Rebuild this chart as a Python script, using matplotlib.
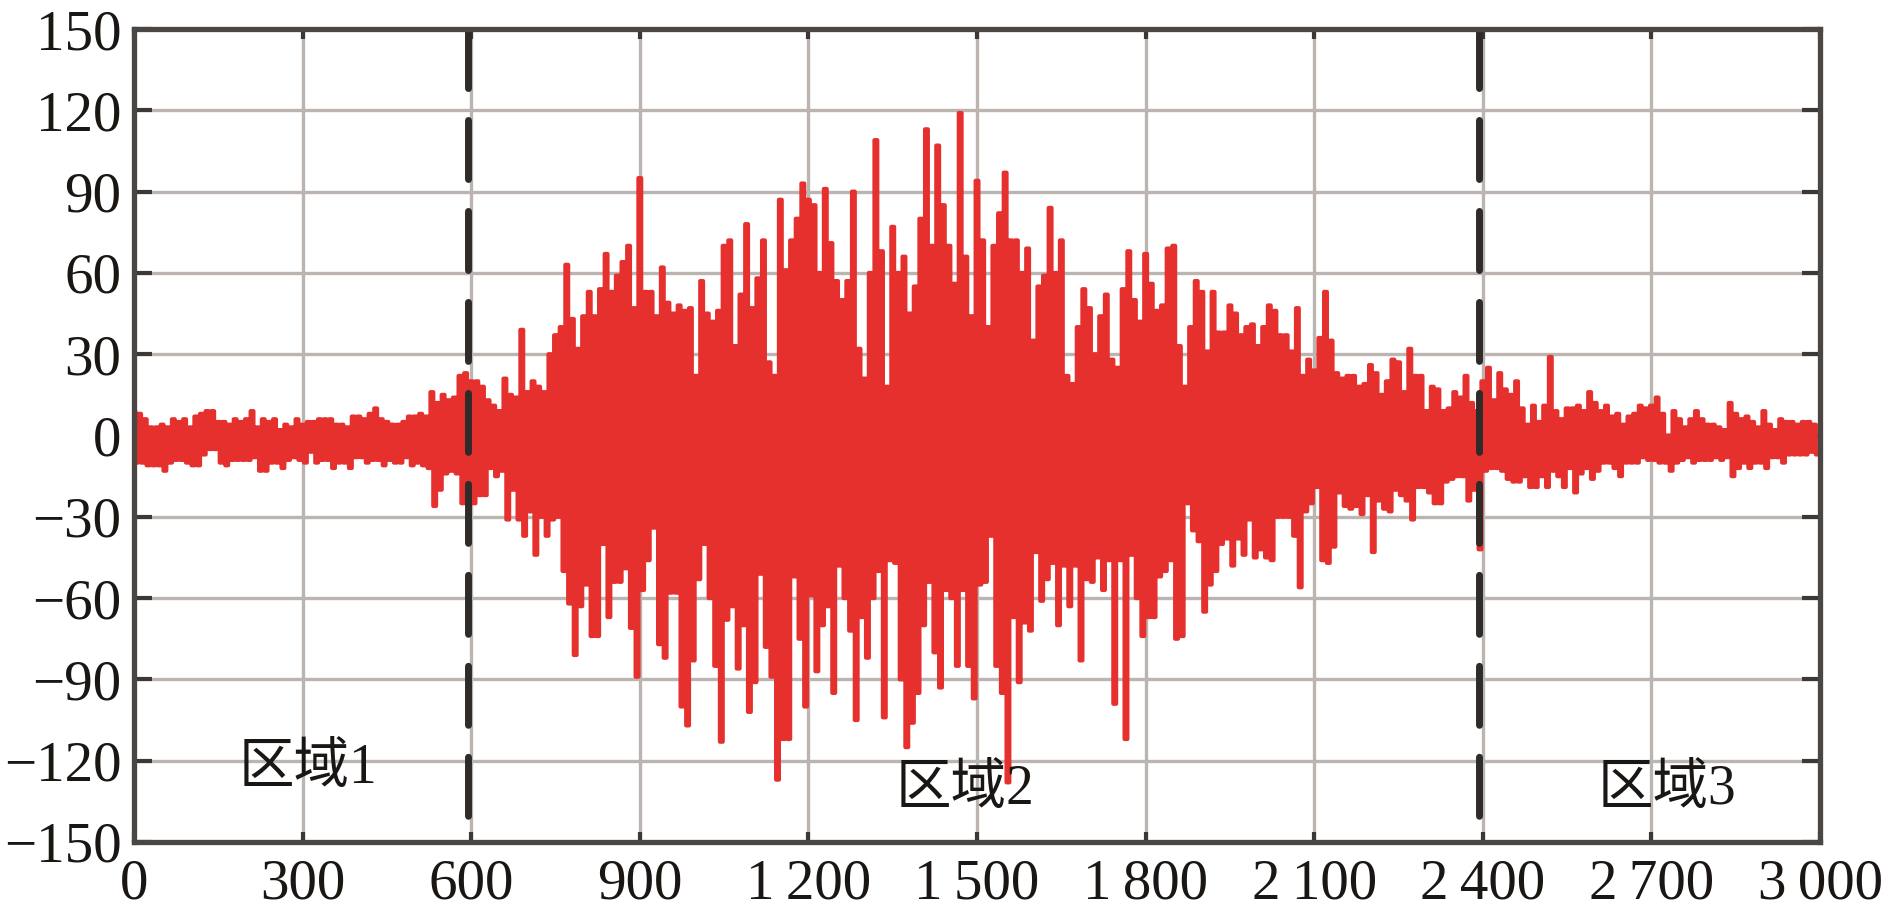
import numpy as np
import matplotlib
matplotlib.use("Agg")
import matplotlib.pyplot as plt

# ── Data (upper/lower extremes every 10 samples) ──
step = 10
upper = [
    # 0 - 490
    9, 8, 6, 3, 3, 4, 3, 6, 5, 6, 3, 7, 8, 9, 9, 5, 5, 4, 6, 5,
    6, 9, 3, 6, 5, 6, 2, 4, 3, 6, 4, 5, 5, 6, 6, 6, 4, 4, 3, 7,
    7, 6, 8, 10, 6, 5, 4, 4, 5, 7,
    # 500 - 990
    7, 8, 7, 16, 12, 15, 13, 14, 22, 23,
    20, 20, 18, 13, 11, 9, 21, 15, 14, 39, 16, 20, 18, 16, 30, 37, 40, 63, 43, 32,
    44, 53, 44, 54, 67, 53, 59, 64, 70, 47, 95, 53, 53, 44, 62, 49, 45, 48, 46, 47,
    # 1000 - 1490
    22, 57, 45, 42, 46, 70, 72, 33, 52, 78, 47, 58, 72, 27, 22, 87, 61, 72, 80, 93,
    87, 85, 60, 91, 71, 57, 50, 57, 90, 32, 21, 60, 109, 68, 18, 77, 60, 66, 45, 55,
    80, 113, 70, 107, 85, 70, 56, 119, 66, 44,
    # 1500 - 1990
    94, 72, 40, 70, 82, 97, 72, 72, 60, 69, 35, 55, 59, 84, 60, 72, 22, 19, 40, 54,
    47, 30, 44, 52, 28, 25, 54, 68, 50, 42, 67, 56, 46, 48, 69, 70, 33, 18, 40, 57,
    53, 31, 53, 38, 38, 48, 45, 37, 40, 41,
    # 2000 - 2490
    33, 40, 48, 46, 37, 37, 31, 47, 22, 28, 24, 36, 53, 35, 23, 21, 22, 22, 18, 19,
    26, 23, 15, 20, 28, 27, 16, 32, 22, 22, 9, 18, 17, 9, 10, 16, 14, 22, 12, 9,
    20, 25, 13, 23, 17, 15, 20, 10, 4, 11,
    # 2500 - 2990
    5, 11, 29, 9, 6, 10, 10, 11, 9, 16, 12, 9, 11, 7, 8, 4, 7, 8, 11, 10,
    11, 14, 8, 0, 9, 6, 3, 6, 9, 6, 4, 4, 3, 2, 12, 8, 6, 7, 5, 3,
    9, 4, 2, 6, 5, 5, 4, 5, 5, 4,
]
lower = [
    # 0 - 490
    -10, -10, -11, -11, -11, -13, -10, -9, -9, -10, -11, -11, -7, -5, -5, -10, -11, -9, -9, -9,
    -9, -8, -13, -13, -10, -10, -12, -9, -8, -9, -10, -6, -10, -9, -9, -12, -10, -10, -12, -8,
    -8, -10, -9, -9, -11, -9, -10, -10, -8, -11,
    # 500 - 990
    -10, -11, -12, -26, -20, -14, -13, -14, -25, -20,
    -25, -22, -22, -12, -15, -13, -31, -20, -31, -37, -28, -44, -30, -37, -31, -30, -50, -62, -81, -63,
    -55, -74, -74, -40, -67, -54, -54, -49, -71, -89, -57, -46, -34, -77, -82, -58, -58, -100, -107, -83,
    # 1000 - 1490
    -53, -40, -60, -85, -113, -68, -63, -86, -70, -102, -91, -51, -78, -89, -127, -112, -112, -52, -75, -100,
    -59, -87, -70, -63, -95, -48, -60, -72, -105, -67, -82, -60, -50, -104, -46, -47, -90, -115, -106, -95,
    -70, -54, -80, -93, -57, -60, -85, -57, -85, -97,
    # 1500 - 1990
    -55, -54, -37, -85, -95, -128, -67, -91, -69, -72, -43, -61, -53, -47, -70, -48, -63, -48, -83, -53,
    -54, -45, -57, -46, -99, -46, -112, -44, -60, -74, -67, -67, -52, -50, -46, -75, -74, -25, -35, -39,
    -65, -55, -50, -40, -38, -48, -38, -44, -31, -45,
    # 2000 - 2490
    -42, -45, -46, -30, -30, -30, -37, -56, -28, -25, -19, -46, -47, -41, -21, -26, -27, -26, -29, -22,
    -43, -24, -27, -28, -20, -22, -24, -31, -19, -19, -21, -25, -25, -17, -16, -15, -15, -24, -20, -42,
    -13, -12, -12, -13, -16, -17, -17, -15, -19, -19,
    # 2500 - 2990
    -15, -19, -13, -15, -19, -12, -21, -14, -12, -16, -13, -10, -10, -12, -15, -10, -10, -10, -8, -9,
    -9, -10, -10, -13, -10, -9, -8, -10, -9, -9, -9, -8, -9, -8, -15, -12, -10, -12, -10, -10,
    -12, -8, -8, -10, -7, -7, -7, -7, -6, -7,
]
boundaries = [594, 2394]
region_labels = ["区域1", "区域2", "区域3"]
region_pos = [(310, -123), (1478, -131), (2728, -131)]

xticks = [0, 300, 600, 900, 1200, 1500, 1800, 2100, 2400, 2700, 3000]
yticks = [-150, -120, -90, -60, -30, 0, 30, 60, 90, 120, 150]

# signal: alternate between the upper and lower extreme of each 10-sample block
sig = np.empty(2 * len(upper))
sig[0::2] = upper
sig[1::2] = lower
t = np.arange(len(sig)) * (step / 2)

# ── Figure ──────────────────────────────────────────────────────────────────
fig = plt.figure(figsize=(18.9, 9.22), dpi=100)
ax = fig.add_axes([0.0709, 0.0868, 0.8921, 0.8817])

ax.grid(True, color="#bcb4b1", lw=2.4, zorder=0)
ax.set_axisbelow(True)

ax.plot(t, sig, color="#e5302d", lw=3.0, drawstyle="steps-mid", zorder=2)

for b in boundaries:
    ax.plot([b, b], [150, -150], color="#2f2b28", lw=5, dash_capstyle="round",
            linestyle=(0, (8.5, 4.6)), zorder=4)

ax.set_xlim(0, 3000)
ax.set_ylim(-150, 150)
ax.set_xticks(xticks)
ax.set_yticks(yticks)

def fmt_x(v):
    return f"{v:,}".replace(",", "\u2009")

ax.set_xticklabels([fmt_x(v) for v in xticks])
ax.set_yticklabels([str(v).replace("-", "\u2212") for v in yticks])

serif = ["Liberation Serif", "DejaVu Serif"]
for lab in ax.get_xticklabels() + ax.get_yticklabels():
    lab.set_family(serif)
    lab.set_fontsize(41)
    lab.set_color("#1a1613")

ax.tick_params(axis="y", direction="in", length=13, width=3, color="#3b3835",
               left=True, right=True, pad=9)
ax.tick_params(axis="x", direction="in", length=7, width=3, color="#3b3835",
               bottom=True, top=True, pad=12)
for sp in ax.spines.values():
    sp.set_linewidth(3.8)
    sp.set_color("#4a4643")
    sp.set_zorder(5)

for lab, (px, py) in zip(region_labels, region_pos):
    ax.text(px, py, lab, ha="center", va="center", fontsize=40,
            family=["Liberation Serif", "Noto Sans CJK SC"], color="#1a1613", zorder=6)

fig.savefig("out.png", dpi=100)
